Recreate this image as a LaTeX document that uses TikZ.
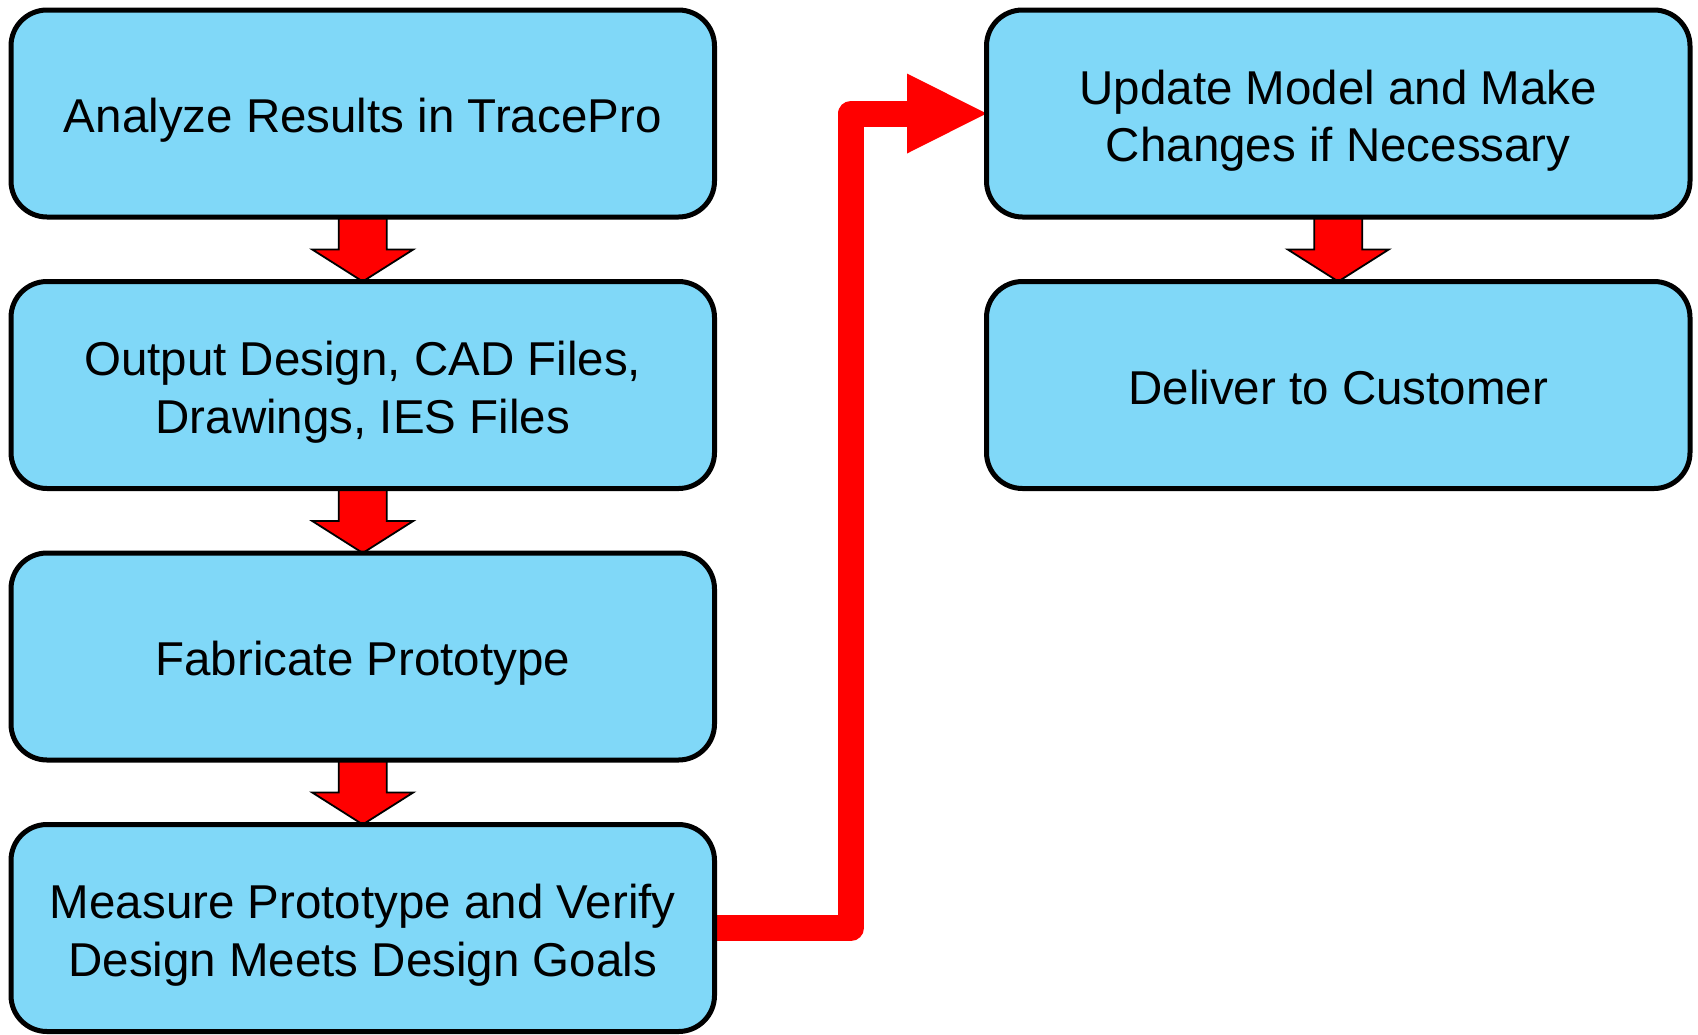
\documentclass[tikz,border=0pt]{standalone}
\usepackage{fontspec}
\setmainfont{Liberation Sans}
\usetikzlibrary{calc}
\pgfdeclarelayer{background}
\pgfsetlayers{background,main}
\definecolor{boxblue}{RGB}{128,216,248}
\definecolor{flowred}{RGB}{255,0,0}
\tikzset{
  stepbox/.style={draw=black, line width=2.5pt, fill=boxblue, rounded corners=18pt,
    minimum width=351.75pt, minimum height=103.5pt, inner sep=0pt, outer sep=0pt,
    align=center, font=\fontsize{23.75pt}{28.75pt}\selectfont},
  % fixed text boxes so every label sits on the same baseline grid
  oneline/.style={text height=24pt, text depth=4.6pt},
  twoline/.style={text height=52.75pt, text depth=4.6pt},
  downarrow/.style={fill=flowred, draw=black, line width=0.9pt, line join=miter},
  elbowline/.style={draw=flowred, line width=13pt, line join=round, line cap=butt},
  elbowhead/.style={fill=flowred}
}
\begin{document}
\begin{tikzpicture}[x=0.5pt, y=-0.5pt]
  \useasboundingbox (0,0) rectangle (1698,1034);

  % left column
  \node[stepbox, oneline] (a) at (362.75,113.5) {Analyze Results in TracePro};
  \node[stepbox, twoline] (b) at (362.75,385) {Output Design, CAD Files,\\Drawings, IES Files};
  \node[stepbox, oneline] (c) at (362.75,656.5) {Fabricate Prototype};
  \node[stepbox, twoline] (d) at (362.75,928) {Measure Prototype and Verify\\Design Meets Design Goals};

  % right column
  \node[stepbox, twoline] (e) at (1338.25,113.5) {Update Model and Make\\Changes if Necessary};
  \node[stepbox, oneline] (f) at (1338.25,385) {Deliver to Customer};

  \begin{pgfonlayer}{background}
    % block arrows between consecutive steps
    \foreach \u/\v in {a/b, b/c, c/d, e/f}{
      \coordinate (s) at (\u.south);
      \coordinate (t) at (\v.north);
      \draw[downarrow] ($(s)+(-24,0)$) -- ($(s)+(24,0)$)
        -- ($(t)+(24,-32)$) -- ($(t)+(50.5,-32)$) -- (t)
        -- ($(t)+(-50.5,-32)$) -- ($(t)+(-24,-32)$) -- cycle;
    }
    % elbow connector from the last step back to the top of the right column
    \coordinate (hb) at ($(e.west)+(-79.5,0)$);
    \draw[elbowline] (d.east) -- ($(d.east)+(136.5,0)$) |- (hb);
    \fill[elbowhead] ($(hb)+(0,-40)$) -- (e.west) -- ($(hb)+(0,40)$) -- cycle;
  \end{pgfonlayer}
\end{tikzpicture}
\end{document}
